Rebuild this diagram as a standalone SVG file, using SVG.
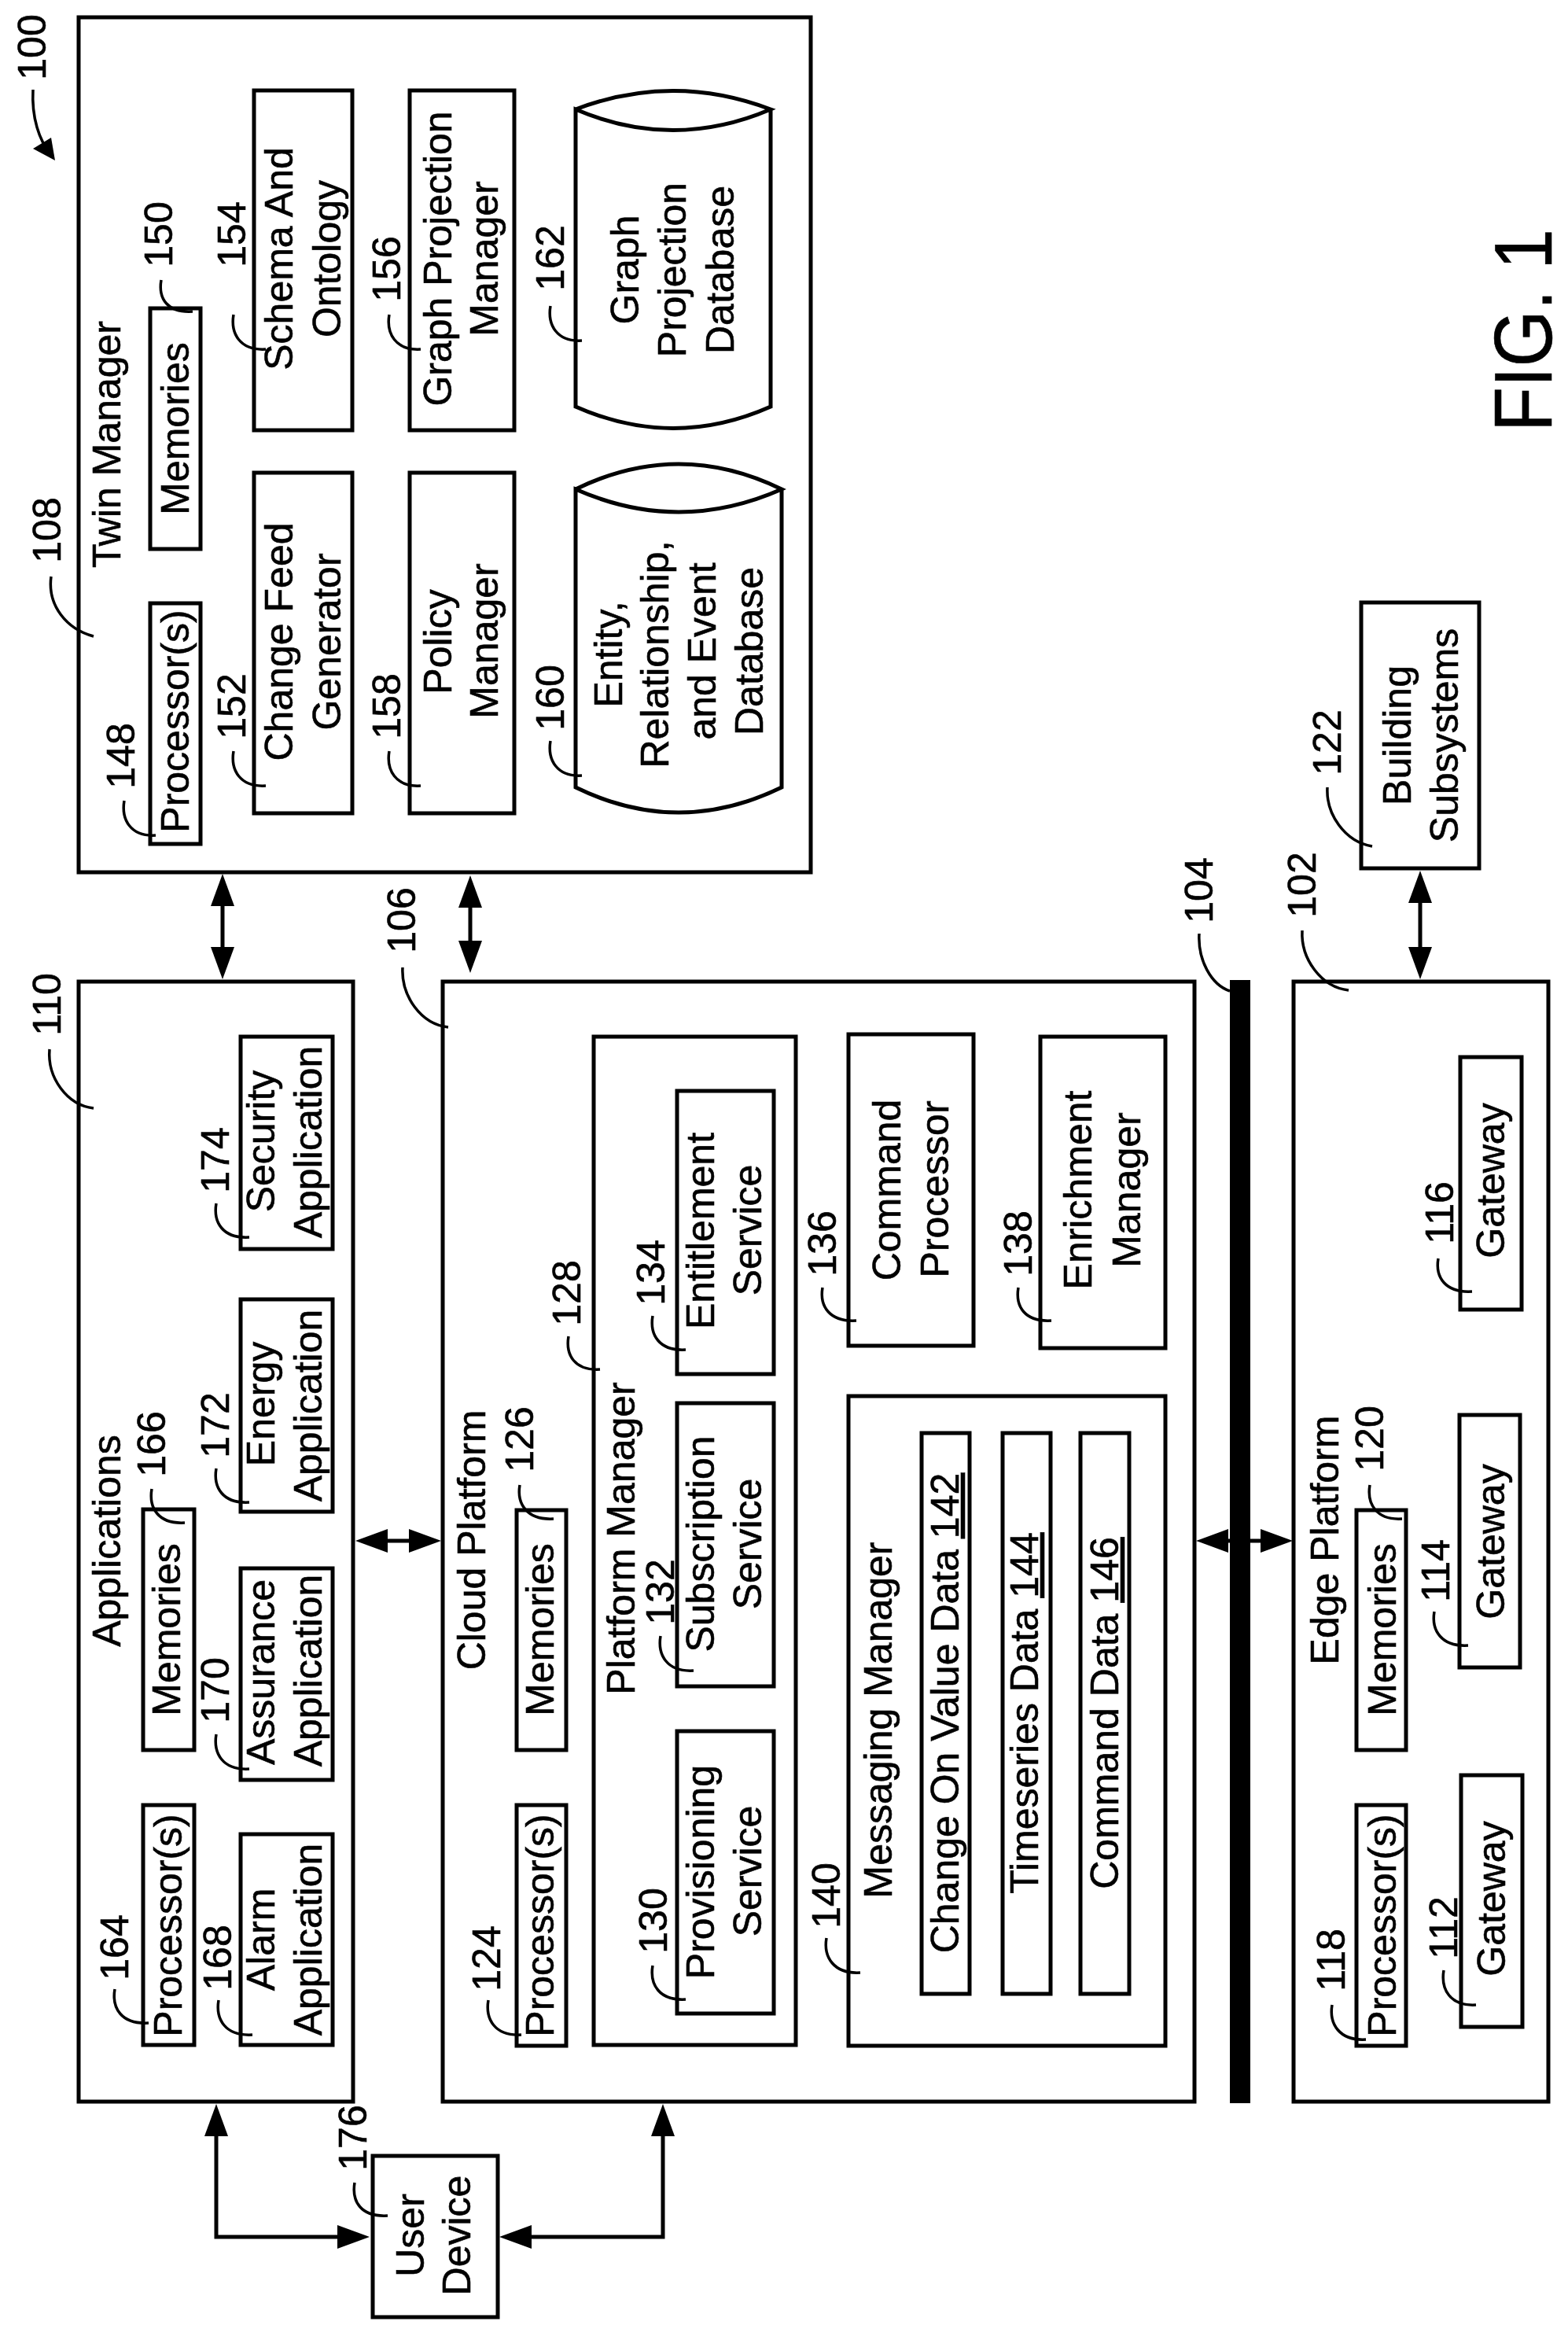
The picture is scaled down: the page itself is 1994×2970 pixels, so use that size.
<svg xmlns="http://www.w3.org/2000/svg" width="1994" height="2970" viewBox="0 0 1994 2970">
<style>
text{font-family:"Liberation Sans",Arial,sans-serif;font-size:50px;fill:#000;stroke:#000;stroke-width:.6;text-anchor:middle}
.num{}
.box{fill:none;stroke:#000;stroke-width:5}
.wire{fill:none;stroke:#000;stroke-width:5;marker-start:url(#ah);marker-end:url(#ah)}
.lead{fill:none;stroke:#000;stroke-width:3.5}
</style>
<defs>
<marker id="ah" markerUnits="userSpaceOnUse" markerWidth="42" markerHeight="30" refX="31" refY="15" orient="auto-start-reverse"><path d="M0 0L41 15L0 30Z" fill="#000"/></marker>
</defs>
<rect width="1994" height="2970" fill="#fff"/>
<g id="connectors">
<path class="wire" d="M283 1121V1235"/>
<path class="wire" d="M598 1123V1227"/>
<path class="wire" d="M1806 1117V1235"/>
<path class="wire" d="M462 1959H551"/>
<path class="wire" d="M1531 1959H1634"/>
<path class="wire" d="M275 2685V2844H460"/>
<path class="wire" d="M843 2685V2844H645"/>
</g>
<g id="ref-100"><text transform="translate(58 60) rotate(-90)">100</text><path class="lead" d="M42 114C40 150 50 178 64 196"/><path d="M70 204L42 189L65 175Z"/></g>
<g id="twin-manager"><rect class="box" x="100" y="22" width="931" height="1087"/><text transform="translate(153 565) rotate(-90)">Twin Manager</text><text transform="translate(77 674) rotate(-90)">108</text><path class="lead" d="M65 733C60 770 85 800 119 809"/></g>
<g id="tm-processors"><rect class="box" x="191" y="767" width="64" height="306"/><text transform="translate(240 917) rotate(-90)">Processor(s)</text><text transform="translate(171 961) rotate(-90)">148</text><path class="lead" d="M158 1018C154 1042 166 1064 198 1062"/></g>
<g id="tm-memories"><rect class="box" x="191" y="392" width="64" height="306"/><text transform="translate(240 545) rotate(-90)">Memories</text><text transform="translate(219 298) rotate(-90)">150</text><path class="lead" d="M205 356C201 380 213 398 245 396"/></g>
<g id="change-feed"><rect class="box" x="323" y="601" width="125" height="433"/><text transform="translate(372 816) rotate(-90)">Change Feed</text><text transform="translate(433 816) rotate(-90)">Generator</text><text transform="translate(312 898) rotate(-90)">152</text><path class="lead" d="M297 955C293 979 305 1001 338 999"/></g>
<g id="schema"><rect class="box" x="323" y="115" width="125" height="432"/><text transform="translate(372 329) rotate(-90)">Schema And</text><text transform="translate(433 329) rotate(-90)">Ontology</text><text transform="translate(312 298) rotate(-90)">154</text><path class="lead" d="M297 400C293 424 305 446 338 444"/></g>
<g id="graph-projection-manager"><rect class="box" x="521" y="115" width="133" height="432"/><text transform="translate(574 329) rotate(-90)">Graph Projection</text><text transform="translate(633 329) rotate(-90)">Manager</text><text transform="translate(509 342) rotate(-90)">156</text><path class="lead" d="M495 400C491 424 503 446 535 444"/></g>
<g id="policy-manager"><rect class="box" x="521" y="601" width="133" height="433"/><text transform="translate(574 816) rotate(-90)">Policy</text><text transform="translate(633 815) rotate(-90)">Manager</text><text transform="translate(509 898) rotate(-90)">158</text><path class="lead" d="M495 955C491 979 503 1001 535 999"/></g>
<g id="graph-db"><path class="box" d="M732 139Q856 92 980 139Q856 192 732 139V517Q856 572 980 517V139"/><text transform="translate(812 343) rotate(-90)">Graph</text><text transform="translate(872 343) rotate(-90)">Projection</text><text transform="translate(933 343) rotate(-90)">Database</text><text transform="translate(717 328) rotate(-90)">162</text><path class="lead" d="M700 389C696 413 708 435 740 433"/></g>
<g id="entity-db"><path class="box" d="M732 622Q863 558 994 622Q863 680 732 622V1001Q863 1065 994 1001V622"/><text transform="translate(791 832) rotate(-90)">Entity,</text><text transform="translate(850 832) rotate(-90)">Relationship,</text><text transform="translate(910 828) rotate(-90)">and Event</text><text transform="translate(970 828) rotate(-90)">Database</text><text transform="translate(717 887) rotate(-90)">160</text><path class="lead" d="M700 942C696 966 708 988 740 986"/></g>
<g id="applications"><rect class="box" x="100" y="1248" width="349" height="1424"/><text transform="translate(153 1959) rotate(-90)">Applications</text><text transform="translate(77 1277) rotate(-90)">110</text><path class="lead" d="M63 1334C60 1370 85 1405 119 1409"/></g>
<g id="app-processors"><rect class="box" x="182" y="2295" width="65" height="305"/><text transform="translate(231 2448) rotate(-90)">Processor(s)</text><text transform="translate(163 2476) rotate(-90)">164</text><path class="lead" d="M146 2529C142 2553 154 2574 189 2572"/></g>
<g id="app-memories"><rect class="box" x="182" y="1919" width="65" height="306"/><text transform="translate(229 2072) rotate(-90)">Memories</text><text transform="translate(210 1836) rotate(-90)">166</text><path class="lead" d="M193 1893C189 1917 201 1938 235 1936"/></g>
<g id="alarm"><rect class="box" x="306" y="2332" width="117" height="268"/><text transform="translate(349 2466) rotate(-90)">Alarm</text><text transform="translate(409 2466) rotate(-90)">Application</text><text transform="translate(294 2489) rotate(-90)">168</text><path class="lead" d="M278 2543C274 2567 286 2589 321 2587"/></g>
<g id="assurance"><rect class="box" x="306" y="1994" width="117" height="269"/><text transform="translate(349 2126) rotate(-90)">Assurance</text><text transform="translate(409 2124) rotate(-90)">Application</text><text transform="translate(291 2149) rotate(-90)">170</text><path class="lead" d="M275 2205C271 2229 283 2251 317 2249"/></g>
<g id="energy"><rect class="box" x="306" y="1652" width="117" height="270"/><text transform="translate(349 1785) rotate(-90)">Energy</text><text transform="translate(409 1787) rotate(-90)">Application</text><text transform="translate(291 1812) rotate(-90)">172</text><path class="lead" d="M275 1867C271 1891 283 1912 317 1910"/></g>
<g id="security"><rect class="box" x="306" y="1318" width="117" height="270"/><text transform="translate(349 1451) rotate(-90)">Security</text><text transform="translate(409 1452) rotate(-90)">Application</text><text transform="translate(291 1475) rotate(-90)">174</text><path class="lead" d="M275 1530C271 1554 283 1575 317 1573"/></g>
<g id="cloud-platform"><rect class="box" x="563" y="1248" width="956" height="1424"/><text transform="translate(617 1958) rotate(-90)">Cloud Platform</text><text transform="translate(528 1170) rotate(-90)">106</text><path class="lead" d="M512 1230C510 1266 535 1302 570 1306"/></g>
<g id="cloud-processors"><rect class="box" x="657" y="2295" width="63" height="306"/><text transform="translate(704 2448) rotate(-90)">Processor(s)</text><text transform="translate(636 2490) rotate(-90)">124</text><path class="lead" d="M621 2543C617 2567 629 2589 663 2587"/></g>
<g id="cloud-memories"><rect class="box" x="657" y="1920" width="63" height="305"/><text transform="translate(704 2072) rotate(-90)">Memories</text><text transform="translate(678 1830) rotate(-90)">126</text><path class="lead" d="M661 1888C657 1912 670 1933 704 1931"/></g>
<g id="platform-manager"><rect class="box" x="755" y="1318" width="257" height="1282"/><text transform="translate(807 1956) rotate(-90)">Platform Manager</text><text transform="translate(738 1644) rotate(-90)">128</text><path class="lead" d="M723 1699C719 1723 731 1743 763 1741"/></g>
<g id="provisioning"><rect class="box" x="861" y="2201" width="123" height="359"/><text transform="translate(908 2380) rotate(-90)">Provisioning</text><text transform="translate(968 2379) rotate(-90)">Service</text><text transform="translate(848 2442) rotate(-90)">130</text><path class="lead" d="M830 2499C826 2523 838 2544 872 2542"/></g>
<g id="subscription"><rect class="box" x="861" y="1784" width="123" height="360"/><text transform="translate(908 1963) rotate(-90)">Subscription</text><text transform="translate(968 1963) rotate(-90)">Service</text><text transform="translate(857 2024) rotate(-90)">132</text><path class="lead" d="M840 2080C836 2104 848 2126 882 2124"/></g>
<g id="entitlement"><rect class="box" x="861" y="1387" width="123" height="360"/><text transform="translate(908 1565) rotate(-90)">Entitlement</text><text transform="translate(968 1564) rotate(-90)">Service</text><text transform="translate(845 1618) rotate(-90)">134</text><path class="lead" d="M830 1673C826 1697 838 1718 872 1716"/></g>
<g id="command-processor"><rect class="box" x="1079" y="1315" width="159" height="396"/><text transform="translate(1145 1513) rotate(-90)">Command</text><text transform="translate(1206 1512) rotate(-90)">Processor</text><text transform="translate(1063 1581) rotate(-90)">136</text><path class="lead" d="M1046 1637C1042 1661 1055 1681 1089 1679"/></g>
<g id="enrichment-manager"><rect class="box" x="1323" y="1318" width="159" height="396"/><text transform="translate(1388 1513) rotate(-90)">Enrichment</text><text transform="translate(1450 1513) rotate(-90)">Manager</text><text transform="translate(1312 1581) rotate(-90)">138</text><path class="lead" d="M1295 1637C1291 1661 1303 1681 1337 1679"/></g>
<g id="messaging-manager"><rect class="box" x="1079" y="1775" width="403" height="826"/><text transform="translate(1134 2187) rotate(-90)">Messaging Manager</text><text transform="translate(1068 2410) rotate(-90)">140</text><path class="lead" d="M1051 2464C1047 2488 1060 2510 1094 2508"/></g>
<g id="cov-data"><rect class="box" x="1172" y="1822" width="61" height="713"/><text transform="translate(1219 2178) rotate(-90)">Change On Value Data <tspan text-decoration="underline">142</tspan></text></g>
<g id="timeseries-data"><rect class="box" x="1275" y="1822" width="61" height="713"/><text transform="translate(1320 2178) rotate(-90)">Timeseries Data <tspan text-decoration="underline">144</tspan></text></g>
<g id="command-data"><rect class="box" x="1374" y="1822" width="62" height="713"/><text transform="translate(1422 2178) rotate(-90)">Command Data <tspan text-decoration="underline">146</tspan></text></g>
<g id="network-104"><rect x="1564" y="1246" width="26" height="1428" fill="#000"/><text transform="translate(1542 1132) rotate(-90)">104</text><path class="lead" d="M1525 1187C1523 1220 1540 1252 1564 1260"/></g>
<g id="edge-platform"><rect class="box" x="1645" y="1248" width="324" height="1424"/><text transform="translate(1702 1958) rotate(-90)">Edge Platform</text><text transform="translate(1673 1125) rotate(-90)">102</text><path class="lead" d="M1656 1183C1654 1219 1680 1255 1715 1259"/></g>
<g id="edge-processors"><rect class="box" x="1725" y="2295" width="63" height="306"/><text transform="translate(1775 2448) rotate(-90)">Processor(s)</text><text transform="translate(1710 2492) rotate(-90)">118</text><path class="lead" d="M1694 2549C1690 2573 1703 2595 1737 2593"/></g>
<g id="edge-memories"><rect class="box" x="1725" y="1920" width="63" height="305"/><text transform="translate(1775 2072) rotate(-90)">Memories</text><text transform="translate(1759 1829) rotate(-90)">120</text><path class="lead" d="M1742 1888C1738 1912 1750 1933 1783 1931"/></g>
<g id="gateway-112"><rect class="box" x="1858" y="2257" width="78" height="320"/><text transform="translate(1914 2414) rotate(-90)">Gateway</text><text transform="translate(1853 2451) rotate(-90)">112</text><path class="lead" d="M1836 2505C1832 2529 1844 2551 1877 2549"/></g>
<g id="gateway-114"><rect class="box" x="1856" y="1799" width="77" height="321"/><text transform="translate(1913 1960) rotate(-90)">Gateway</text><text transform="translate(1843 1997) rotate(-90)">114</text><path class="lead" d="M1824 2049C1820 2073 1833 2094 1867 2092"/></g>
<g id="gateway-116"><rect class="box" x="1857" y="1344" width="78" height="321"/><text transform="translate(1913 1501) rotate(-90)">Gateway</text><text transform="translate(1848 1542) rotate(-90)">116</text><path class="lead" d="M1829 1600C1825 1624 1838 1644 1872 1642"/></g>
<g id="building-subsystems"><rect class="box" x="1731" y="766" width="150" height="338"/><text transform="translate(1794 935) rotate(-90)">Building</text><text transform="translate(1854 935) rotate(-90)">Subsystems</text><text transform="translate(1705 944) rotate(-90)">122</text><path class="lead" d="M1688 1001C1686 1035 1710 1070 1745 1076"/></g>
<g id="user-device"><rect class="box" x="474" y="2741" width="159" height="205"/><text transform="translate(539 2842) rotate(-90)">User</text><text transform="translate(598 2842) rotate(-90)">Device</text><text transform="translate(466 2718) rotate(-90)">176</text><path class="lead" d="M451 2775C447 2799 459 2819 493 2817"/></g>
<text transform="translate(1973 420) rotate(-90) scale(.9 1)" style="font-size:103px">FIG. 1</text>
</svg>
